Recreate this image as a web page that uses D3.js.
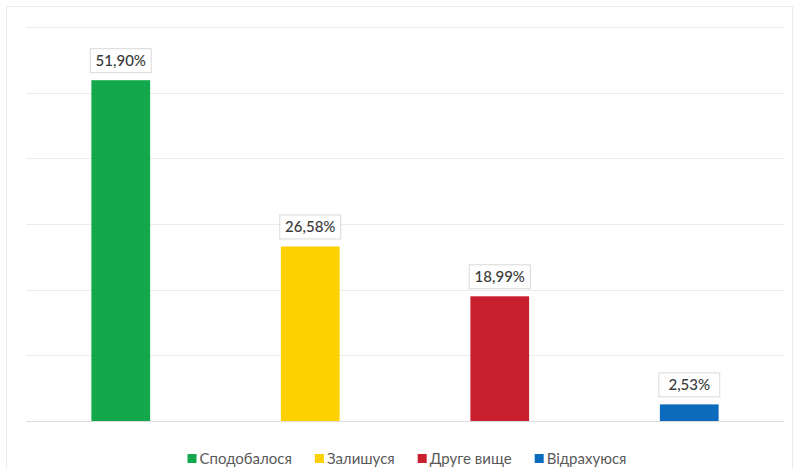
<!DOCTYPE html>
<html>
<head>
<meta charset="utf-8">
<script src="https://cdn.jsdelivr.net/npm/d3@7"></script>
<style>
  body { margin: 0; background: #fff; }
  text { font-family: Lato, "Open Sans", sans-serif; }
</style>
</head>
<body>
<svg id="chart" width="796" height="469"></svg>
<script>
const categories = ["Сподобалося", "Залишуся", "Друге вище", "Відрахуюся"];
const values = [51.90, 26.58, 18.99, 2.53];
const colors = ["#12a84b", "#fdd100", "#c9202f", "#0b6cbd"];
const yTicks = [0, 10, 20, 30, 40, 50, 60];

const svg = d3.select("#chart");
const width = +svg.attr("width");
const height = +svg.attr("height");
const margin = { top: 27, right: 12, bottom: 48, left: 26 };

// outer frame
svg.append("rect")
  .attr("x", 6.5).attr("y", 6.5)
  .attr("width", width - 10).attr("height", height - 4)
  .attr("fill", "none")
  .attr("stroke", "#ececec");

const x = d3.scaleBand()
  .domain(categories)
  .range([margin.left, width - margin.right])
  .paddingInner(0.69)
  .paddingOuter(0.345);

const y = d3.scaleLinear()
  .domain([0, 60])
  .range([height - margin.bottom, margin.top]);

// gridlines
svg.append("g")
  .selectAll("line")
  .data(yTicks)
  .enter().append("line")
  .attr("x1", margin.left)
  .attr("x2", width - margin.right)
  .attr("y1", d => Math.round(y(d)) + 0.5)
  .attr("y2", d => Math.round(y(d)) + 0.5)
  .attr("stroke", d => d === 0 ? "#dcdcdc" : "#ebebeb")
  .attr("stroke-width", 1);

// bars
svg.append("g")
  .selectAll("rect")
  .data(values)
  .enter().append("rect")
  .attr("x", (d, i) => x(categories[i]))
  .attr("y", d => y(d))
  .attr("width", x.bandwidth())
  .attr("height", d => y(0) - y(d))
  .attr("fill", (d, i) => colors[i]);

// value labels in boxes
const labels = svg.append("g")
  .selectAll("g")
  .data(values)
  .enter().append("g")
  .attr("transform", (d, i) => `translate(${x(categories[i]) + x.bandwidth() / 2},${y(d) - 20})`);

labels.append("rect")
  .attr("x", -30.5).attr("y", -11.5)
  .attr("width", 61).attr("height", 24)
  .attr("fill", "#fff")
  .attr("stroke", "#d9d9d9");

labels.append("text")
  .attr("text-anchor", "middle")
  .attr("dy", "0.36em")
  .style("font-size", "15px")
  .style("font-weight", 500)
  .style("fill", "#3a3a3a")
  .text(d => d.toFixed(2).replace(".", ",") + "%");

// legend
const legend = svg.append("g");
let lx = 0;
categories.forEach((c, i) => {
  const item = legend.append("g").attr("transform", `translate(${lx},0)`);
  item.append("rect")
    .attr("x", 0).attr("y", -5)
    .attr("width", 9).attr("height", 9)
    .attr("fill", colors[i]);
  const t = item.append("text")
    .attr("x", 12)
    .attr("dy", "0.35em")
    .style("font-size", "15px")
    .style("fill", "#595959")
    .text(c);
  lx += 12 + t.node().getComputedTextLength() + 23;
});
lx -= 23;
legend.attr("transform", `translate(${(width - lx) / 2 + 9},459)`);
</script>
</body>
</html>
